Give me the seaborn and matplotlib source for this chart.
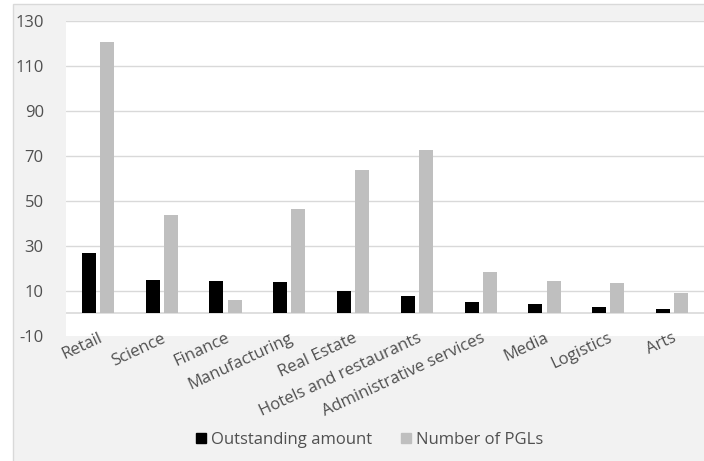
import matplotlib
matplotlib.use("Agg")
import matplotlib.pyplot as plt
from matplotlib.patches import Rectangle
from matplotlib.lines import Line2D
import seaborn as sns
import pandas as pd

sectors = ["Retail", "Science", "Finance", "Manufacturing", "Real Estate",
           "Hotels and restaurants", "Administrative services", "Media",
           "Logistics", "Arts"]
outstanding_amount = [26.7, 14.7, 14.4, 14.1, 9.9, 7.7, 4.9, 4.0, 3.0, 1.9]
number_of_pgls = [120.4, 43.6, 5.8, 46.2, 63.7, 72.6, 18.2, 14.4, 13.5, 9.0]
series_names = ["Outstanding amount", "Number of PGLs"]
series_colors = ["#000000", "#bfbfbf"]
y_ticks = [-10, 10, 30, 50, 70, 90, 110, 130]

df = pd.DataFrame({
    "sector": sectors * 2,
    "value": outstanding_amount + number_of_pgls,
    "series": [series_names[0]] * len(sectors) + [series_names[1]] * len(sectors),
})

sns.set_style("white")
plt.rcParams["font.family"] = ["Open Sans", "DejaVu Sans"]
text_color = "#505050"
fs = 12

fig = plt.figure(figsize=(7.04, 4.61), dpi=100)
fig.patch.set_facecolor("white")

# chart frame behind everything
W, H = 704, 461
fig.patches.append(Rectangle((13 / W, -0.01), 1.0, 1 - 4 / H + 0.01,
                             transform=fig.transFigure, facecolor="#f2f2f2",
                             edgecolor="#d9d9d9", linewidth=1.0, zorder=-10))

ax = fig.add_axes([66 / W, 1 - 335.8 / H, (W - 66) / W, (335.8 - 20.8) / H])
ax.set_facecolor("white")

sns.barplot(data=df, x="sector", y="value", hue="series", order=sectors,
            hue_order=series_names, palette=series_colors, width=0.57,
            gap=0.23, saturation=1, legend=False, ax=ax,
            edgecolor="none", linewidth=0)

ax.set_ylim(-10, 130)
ax.set_xlim(-0.5, len(sectors) - 0.5)
ax.set_yticks(y_ticks)
ax.set_yticklabels([str(t) for t in y_ticks], fontsize=fs, color=text_color)
for t in y_ticks[1:]:
    ax.axhline(t, color="#d9d9d9", linewidth=1.0, zorder=0)
ax.axhline(0, color="#d9d9d9", linewidth=1.2, zorder=0)
ax.grid(False)
for s in ax.spines.values():
    s.set_visible(False)
ax.tick_params(axis="both", length=0)
ax.tick_params(axis="y", pad=16)
ax.set_xlabel("")
ax.set_ylabel("")
ax.set_xticks(range(len(sectors)))
ax.set_xticklabels(sectors, rotation=25, ha="right", va="top",
                   rotation_mode="anchor", fontsize=fs, color=text_color)
ax.tick_params(axis="x", pad=-4)

handles = [Line2D([], [], marker="s", linestyle="none", markersize=7,
                  markerfacecolor=c, markeredgecolor=c) for c in series_colors]
fig.legend(handles, series_names, loc="center", ncol=2,
           bbox_to_anchor=(368 / W, 1 - 440 / H), frameon=False,
           fontsize=fs, labelcolor=text_color, handletextpad=0.1,
           columnspacing=1.5, handlelength=1.0)

fig.savefig("out.png", dpi=100, facecolor=fig.get_facecolor())
